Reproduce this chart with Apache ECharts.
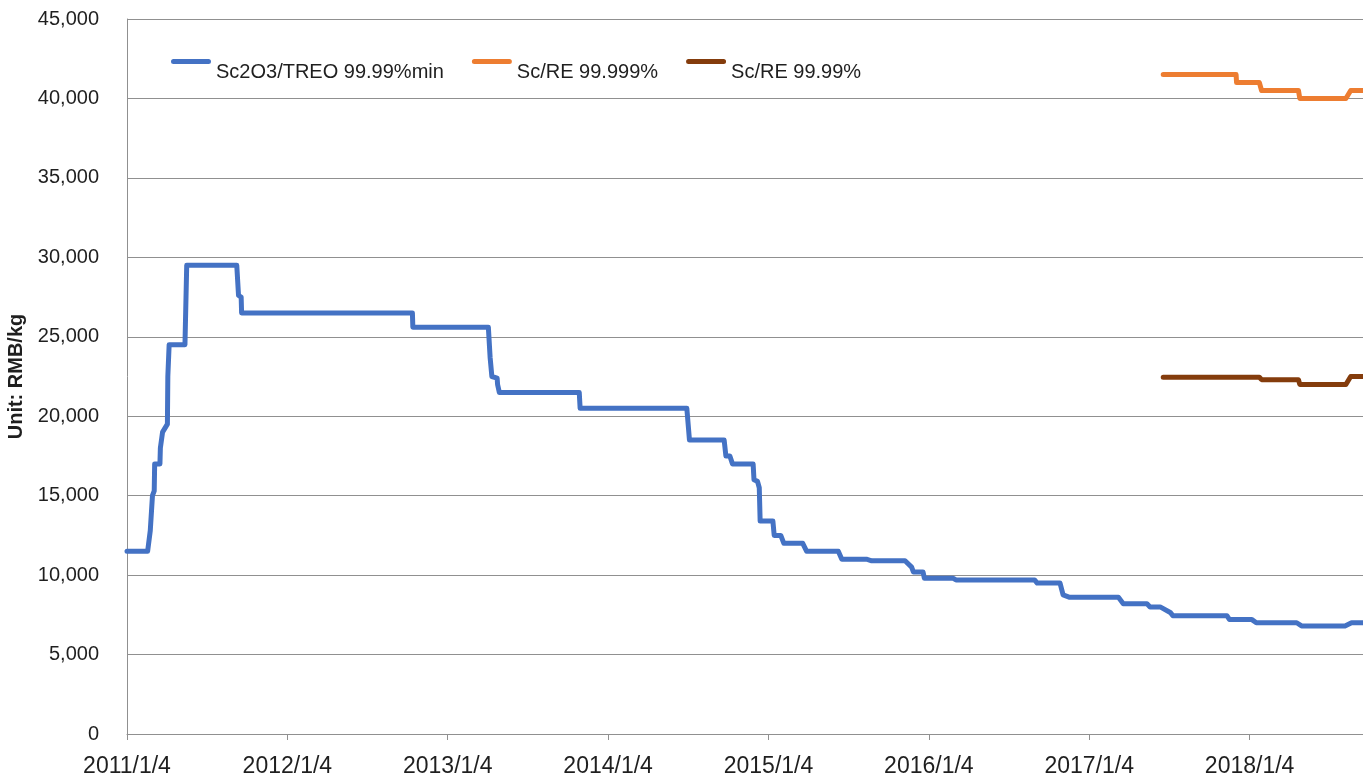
<!DOCTYPE html>
<html lang="en">
<head>
    <meta charset="UTF-8">
    <title>Scandium prices</title>
    <script src="https://cdn.jsdelivr.net/npm/echarts@6/dist/echarts.min.js"></script>
    <style>
        html, body { margin: 0; padding: 0; background: #ffffff; }
        #container { width: 1363px; height: 784px; }
    </style>
</head>
<body>
<div id="container"></div>
<script>
    // 数据
    let seriesNames = ['Sc2O3/TREO 99.99%min', 'Sc/RE 99.999%', 'Sc/RE 99.99%'];

    let oxideDates = [
        '2011-01-04', '2011-02-20', '2011-02-26', '2011-03-03', '2011-03-07', '2011-03-08',
        '2011-03-20', '2011-03-21', '2011-03-26', '2011-04-06', '2011-04-07', '2011-04-10',
        '2011-05-16', '2011-05-20', '2011-09-11', '2011-09-15', '2011-09-21', '2011-09-22',
        '2012-10-15', '2012-10-16', '2013-04-06', '2013-04-10', '2013-04-14', '2013-04-26',
        '2013-04-27', '2013-05-01', '2013-10-30', '2013-11-01', '2014-07-02', '2014-07-05',
        '2014-07-08', '2014-09-25', '2014-09-29', '2014-10-08', '2014-10-14', '2014-11-30',
        '2014-12-02', '2014-12-10', '2014-12-14', '2014-12-16', '2015-01-14', '2015-01-17',
        '2015-02-01', '2015-02-08', '2015-03-23', '2015-04-01', '2015-06-12', '2015-06-20',
        '2015-08-15', '2015-08-27', '2015-11-11', '2015-11-26', '2015-11-30', '2015-12-22',
        '2015-12-25', '2016-02-29', '2016-03-06', '2016-09-01', '2016-09-07', '2016-10-29',
        '2016-11-05', '2016-11-20', '2017-03-11', '2017-03-22', '2017-05-15', '2017-05-22',
        '2017-06-14', '2017-07-07', '2017-07-13', '2017-11-13', '2017-11-19', '2018-01-09',
        '2018-01-19', '2018-04-21', '2018-05-02', '2018-08-09', '2018-08-24', '2018-09-19'
    ];
    let oxideValues = [
        11500, 11500, 12800, 15000, 15300, 17000,
        17000, 18000, 19000, 19500, 22500, 24500,
        24500, 29500, 29500, 27600, 27500, 26500,
        26500, 25600, 25600, 23700, 22500, 22400,
        22000, 21500, 21500, 20500, 20500, 19500,
        18500, 18500, 17500, 17500, 17000, 17000,
        16000, 15900, 15500, 13400, 13400, 12500,
        12500, 12000, 12000, 11500, 11500, 11000,
        11000, 10900, 10900, 10500, 10200, 10200,
        9800, 9800, 9700, 9700, 9500, 9500,
        8750, 8600, 8600, 8200, 8200, 8000,
        8000, 7650, 7450, 7450, 7200, 7200,
        7000, 7000, 6800, 6800, 7000, 7000
    ];

    let reDates = [
        '2017-06-21', '2017-12-04', '2017-12-05', '2018-01-26', '2018-01-31',
        '2018-04-25', '2018-04-28', '2018-08-11', '2018-08-22', '2018-09-19'
    ];
    let re5Values = [41500, 41500, 41000, 41000, 40500, 40500, 40000, 40000, 40500, 40500];
    let re4Values = [22450, 22450, 22450, 22450, 22300, 22300, 22000, 22000, 22500, 22500];

    let startDate = '2011-01-04';
    let endDate = '2018-09-19';
    let yTicks = [0, 5000, 10000, 15000, 20000, 25000, 30000, 35000, 40000, 45000];

    // 日期 -> 距 2011/1/4 的年数
    function toYears(d) {
        return (Date.parse(d) - Date.parse(startDate)) / (365.25 * 86400000);
    }
    function pairs(dates, values) {
        return dates.map(function (d, i) { return [toYears(d), values[i]]; });
    }

    let colors = ['#4472C4', '#ED7D31', '#843C0C'];
    let textColor = '#1f1f1f';
    let gridColor = '#909090';
    // 图例线条放在文字上方一点（Excel 的样子）
    let legendIcon = 'path://M2.5,0 H37.5 Q40,0 40,2.5 Q40,5 37.5,5 H2.5 Q0,5 0,2.5 Q0,0 2.5,0 Z M0,27 H0.01';

    let chart = echarts.init(document.getElementById('container'));

    function lineSeries(name, data, color) {
        return {
            name: name,
            type: 'line',
            data: data,
            showSymbol: false,
            symbol: 'none',
            animation: false,
            lineStyle: { color: color, width: 5, cap: 'round', join: 'round' },
            itemStyle: { color: color }
        };
    }

    let option = {
        backgroundColor: '#ffffff',
        animation: false,
        textStyle: { fontFamily: '"Liberation Sans", Arial, sans-serif' },
        grid: { left: 127, right: 0, top: 19, bottom: 50, outerBoundsMode: 'none' },
        legend: {
            data: seriesNames,
            left: 171,
            top: 59,
            padding: 0,
            itemGap: 28,
            itemWidth: 40,
            itemHeight: 27,
            icon: legendIcon,
            textStyle: { color: textColor, fontSize: 20 }
        },
        xAxis: {
            type: 'value',
            min: 0,
            max: toYears(endDate),
            interval: 1,
            axisLine: { show: true, lineStyle: { color: gridColor, width: 1 } },
            axisTick: { show: true, length: 6, lineStyle: { color: gridColor } },
            splitLine: { show: false },
            axisLabel: {
                color: textColor,
                fontSize: 23,
                margin: 21,
                showMaxLabel: false,
                formatter: function (v) {
                    if (Math.abs(v - Math.round(v)) > 1e-6) return '';
                    return (2011 + Math.round(v)) + '/1/4';
                }
            }
        },
        yAxis: {
            type: 'value',
            min: yTicks[0],
            max: yTicks[yTicks.length - 1],
            interval: yTicks[1] - yTicks[0],
            name: 'Unit: RMB/kg',
            nameLocation: 'middle',
            nameRotate: 90,
            nameGap: 89,
            nameTextStyle: { color: textColor, fontSize: 20, fontWeight: 'bold' },
            axisLine: { show: true, lineStyle: { color: gridColor, width: 1 } },
            axisTick: { show: false },
            splitLine: { show: true, lineStyle: { color: gridColor, width: 1 } },
            axisLabel: {
                color: textColor,
                fontSize: 20,
                margin: 28,
                formatter: function (v) { return v.toLocaleString('en-US'); }
            }
        },
        series: [
            lineSeries(seriesNames[0], pairs(oxideDates, oxideValues), colors[0]),
            lineSeries(seriesNames[1], pairs(reDates, re5Values), colors[1]),
            lineSeries(seriesNames[2], pairs(reDates, re4Values), colors[2])
        ]
    };
    chart.setOption(option);
</script>
</body>
</html>
